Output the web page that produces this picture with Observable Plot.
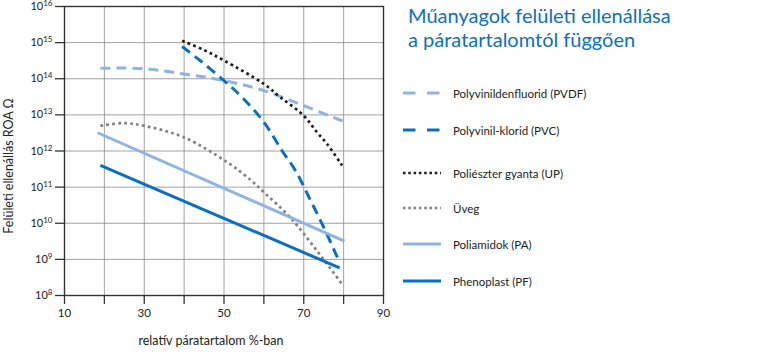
<!DOCTYPE html>
<html><head><meta charset="utf-8">
<script src="https://cdn.jsdelivr.net/npm/d3@7"></script>
<script src="https://cdn.jsdelivr.net/npm/@observablehq/plot@0.6"></script>
<style>
body{margin:0;background:#fff;font-family:Lato,"Open Sans",sans-serif;}
#wrap{position:relative;width:760px;height:356px;overflow:hidden;}
#title{position:absolute;left:408px;top:3px;color:#0a70c2;font-size:20px;line-height:24px;white-space:nowrap;}
.item{position:absolute;left:403px;height:12px;display:flex;align-items:center;white-space:nowrap;font-size:11.5px;color:#222;}
.item svg{display:block;margin-right:12px;}
</style></head>
<body><div id="wrap"></div>
<script>
// ---- data ----
const titleLines = ["Műanyagok felületi ellenállása", "a páratartalomtól függően"];
const xLabel = "relatív páratartalom %-ban";
const yLabel = "Felületi ellenállás ROA Ω";
const xTicks = [10, 20, 30, 40, 50, 60, 70, 80, 90];
const xTickLabels = [10, 30, 50, 70, 90];
const yTicks = [1e8, 1e9, 1e10, 1e11, 1e12, 1e13, 1e14, 1e15, 1e16];
const xGridTicks = [20, 30, 40, 50, 60, 70, 80];

const seriesNames = ["Polyvinildenfluorid (PVDF)", "Polyvinil-klorid (PVC)", "Poliészter gyanta (UP)", "Üveg", "Poliamidok (PA)", "Phenoplast (PF)"];

const pvdfX = [19, 30, 40, 50, 60, 70, 80];
const pvdfY = [1.95e14, 1.9e14, 1.35e14, 8.9e13, 4.7e13, 1.8e13, 6.6e12];

const pvcX = [39.5, 44, 50, 54.5, 60, 64.6, 67.9, 71.7, 75.4, 78.8];
const pvcY = [7.8e14, 3.2e14, 8.9e13, 3.1e13, 6.3e12, 1.0e12, 2.9e11, 4.3e10, 6.3e9, 9.1e8];

const upX = [39.5, 44.9, 50, 60, 64.1, 70, 73.3, 75.8, 79.6];
const upY = [1.12e15, 6.3e14, 3.2e14, 7.2e13, 3.1e13, 9.5e12, 3.3e12, 1.6e12, 4.0e11];

const glassX = [19, 24.9, 29.9, 39.9, 50.8, 56.6, 60, 66.6, 73.3, 79.7];
const glassY = [5.0e12, 5.9e12, 5.0e12, 2.4e12, 4.9e11, 1.6e11, 7.2e10, 1.45e10, 1.74e9, 2.0e8];

const paX = [18.3, 80.2];
const paY = [3.2e12, 3.2e9];

const pfX = [19, 79];
const pfY = [4.0e11, 5.8e8];

// ---- styles ----
const styles = [
  {color: "#8db4e2", dash: "10,6", width: 3},
  {color: "#0a6fc0", dash: "10,6", width: 3},
  {color: "#1a1a1a", dash: "2.7,3.3", width: 2.7},
  {color: "#808080", dash: "2.7,3.3", width: 2.7},
  {color: "#8db4e2", dash: null, width: 3},
  {color: "#0a6fc0", dash: null, width: 3}
];
const legendDash = ["12.5,11.5", "12.5,11.5", "2.5,2.8", "2.5,2.8", null, null];
const legendY = [93, 130, 173, 208, 244, 281];

const seriesXs = [pvdfX, pvcX, upX, glassX, paX, pfX];
const seriesYs = [pvdfY, pvcY, upY, glassY, paY, pfY];

const lineMarks = seriesXs.map((xs, i) => {
  const data = xs.map((x, j) => ({x, y: seriesYs[i][j]}));
  const s = styles[i];
  return Plot.line(data, {
    x: "x", y: "y", stroke: s.color, strokeWidth: s.width,
    strokeDasharray: s.dash || undefined, strokeLinecap: "butt",
    curve: xs.length > 2 ? "catmull-rom" : "linear"
  });
});

const chart = Plot.plot({
  width: 760, height: 356,
  marginLeft: 64, marginRight: 377, marginTop: 6, marginBottom: 61,
  style: {fontFamily: "Lato, 'Open Sans', sans-serif", fontSize: "11px", color: "#222", background: "transparent", overflow: "visible"},
  x: {domain: [10, 90]},
  y: {type: "log", domain: [1e8, 1e16]},
  marks: [
    Plot.gridX(xGridTicks, {stroke: "#8a8a8a", strokeOpacity: 1, strokeWidth: 0.8}),
    Plot.gridY(yTicks, {stroke: "#8a8a8a", strokeOpacity: 1, strokeWidth: 0.8}),
    ...lineMarks,
    Plot.frame({stroke: "#333", strokeWidth: 1.4}),
    Plot.axisX(xTicks, {tickSize: 9, tickPadding: 4, stroke: "#333", strokeWidth: 1.3,
      tickFormat: d => xTickLabels.includes(d) ? String(d) : "", label: null, fontSize: 11.5}),
    Plot.axisY(yTicks, {tickSize: 9, tickPadding: 3, stroke: "#333", strokeWidth: 1.3,
      tickFormat: d => "10^" + Math.round(Math.log10(d)), label: null, fontSize: 11}),
    Plot.text([xLabel], {frameAnchor: "bottom", textAnchor: "middle", lineAnchor: "middle", dx: -13, dy: 45, fontSize: 12.5, fill: "#222"}),
    Plot.text([yLabel], {frameAnchor: "left", textAnchor: "middle", lineAnchor: "middle", dx: -56, dy: 15, rotate: -90, fontSize: 12.5, fill: "#222"})
  ]
});

// superscript exponents on y tick labels
chart.querySelectorAll('g[aria-label="y-axis tick label"] text').forEach(t => {
  const parts = t.textContent.split("^");
  if (parts.length === 2) {
    t.textContent = "";
    const ns = "http://www.w3.org/2000/svg";
    const a = document.createElementNS(ns, "tspan"); a.textContent = parts[0];
    const b = document.createElementNS(ns, "tspan"); b.textContent = parts[1];
    b.setAttribute("dy", "-4"); b.setAttribute("font-size", "8");
    t.appendChild(a); t.appendChild(b);
  }
});

const wrap = document.getElementById("wrap");
wrap.appendChild(chart);

const title = document.createElement("div");
title.id = "title";
title.innerHTML = titleLines.join("<br>");
wrap.appendChild(title);

seriesNames.forEach((name, i) => {
  const item = document.createElement("div");
  item.className = "item";
  item.style.top = (legendY[i] - 6) + "px";
  const s = styles[i];
  item.innerHTML = `<svg width="38" height="6"><line x1="0" y1="3" x2="38" y2="3" stroke="${s.color}" stroke-width="${s.width}" ${legendDash[i] ? `stroke-dasharray="${legendDash[i]}"` : ""}/></svg><span>${name}</span>`;
  wrap.appendChild(item);
});
</script></body></html>
